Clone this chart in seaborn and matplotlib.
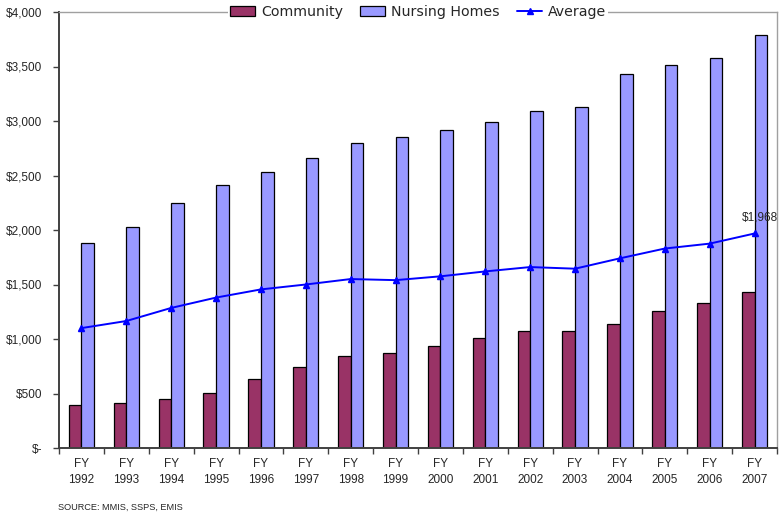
import numpy as np
import pandas as pd
import matplotlib.pyplot as plt
import seaborn as sns
from matplotlib.patches import Patch
from matplotlib.lines import Line2D
from matplotlib.ticker import FuncFormatter, FixedLocator

## Data
years = ["1992", "1993", "1994", "1995", "1996", "1997", "1998", "1999",
         "2000", "2001", "2002", "2003", "2004", "2005", "2006", "2007"]
community = [390, 415, 450, 505, 635, 745, 840, 875,
             940, 1010, 1070, 1075, 1135, 1255, 1330, 1430]
nursing_homes = [1885, 2030, 2250, 2415, 2530, 2660, 2800, 2850,
                 2920, 2990, 3090, 3130, 3435, 3515, 3580, 3790]
average = [1100, 1165, 1285, 1380, 1455, 1500, 1550, 1540,
           1575, 1620, 1660, 1645, 1740, 1830, 1875, 1968]
tick_labels = [f"FY\n{y}" for y in years]

col_comm = "#993366"
col_nurse = "#9999FF"
col_avg = "#0000FF"

# long format for the grouped bars
bars_df = pd.DataFrame({
    "year": years * 2,
    "cost": community + nursing_homes,
    "type": ["Community"] * len(years) + ["Nursing Homes"] * len(years),
})
avg_df = pd.DataFrame({"year": years, "avg": average})

sns.set_style("white")
plt.rcParams["font.family"] = ["Liberation Sans", "DejaVu Sans"]

fig = plt.figure(figsize=(7.79, 5.18), dpi=100)
ax = fig.add_axes([59 / 779, 70 / 518, 718 / 779, 436 / 518])

sns.barplot(data=bars_df, x="year", y="cost", hue="type",
            palette=[col_comm, col_nurse], width=0.56, gap=0,
            edgecolor="black", linewidth=0.9, saturation=1,
            legend=False, ax=ax)

sns.pointplot(data=avg_df, x="year", y="avg", color=col_avg,
              markers="^", markersize=5, linewidth=1.4, ax=ax)

ax.set_xlim(-0.5, len(years) - 0.5)
ax.set_ylim(0, 4000)
ax.set_yticks(np.arange(0, 4001, 500))
ax.yaxis.set_major_formatter(FuncFormatter(lambda v, p: "$-" if v == 0 else f"${int(v):,}"))
ax.set_xticks(range(len(years)))
ax.set_xticklabels(tick_labels, fontsize=8.5, linespacing=1.5)
ax.xaxis.set_minor_locator(FixedLocator(np.arange(-0.5, len(years), 1.0)))
ax.tick_params(axis="x", which="major", length=0, pad=7)
ax.tick_params(axis="x", which="minor", length=4, width=1, color="#404040", direction="out", bottom=True)
ax.tick_params(axis="y", length=4, width=1, color="#404040", direction="out", left=True, labelsize=8.5, pad=8)
ax.set_xlabel("")
ax.set_ylabel("")

# spines: dark axis lines, light gray plot-area border
for s in ["left", "bottom"]:
    ax.spines[s].set_color("#404040")
    ax.spines[s].set_linewidth(1.4)
for s in ["top", "right"]:
    ax.spines[s].set_visible(True)
    ax.spines[s].set_color("#a0a0a0")
    ax.spines[s].set_linewidth(1.0)

# label on the last average point
ax.annotate(f"${average[-1]:,}", xy=(len(years) - 1, average[-1]),
            xytext=(4, 7), textcoords="offset points",
            ha="center", va="bottom", fontsize=8.5)

handles = [
    Patch(facecolor=col_comm, edgecolor="black", linewidth=0.9),
    Patch(facecolor=col_nurse, edgecolor="black", linewidth=0.9),
    Line2D([], [], color=col_avg, marker="^", markersize=5, linewidth=1.4),
]
leg = ax.legend(handles, ["Community", "Nursing Homes", "Average"],
                loc="center", bbox_to_anchor=(0.5, 1.0), ncol=3,
                frameon=True, fancybox=False, framealpha=1, edgecolor="white",
                prop={"family": "DejaVu Sans", "size": 10.2},
                handlelength=1.8, handleheight=0.7, handletextpad=0.4,
                columnspacing=1.2, borderpad=0.1)
leg.get_frame().set_linewidth(0)

fig.text(58 / 779, 1 - 507 / 518, "SOURCE: MMIS, SSPS, EMIS", fontsize=6.6,
         ha="left", va="center")

fig.savefig("out.png", dpi=100, facecolor="white")
